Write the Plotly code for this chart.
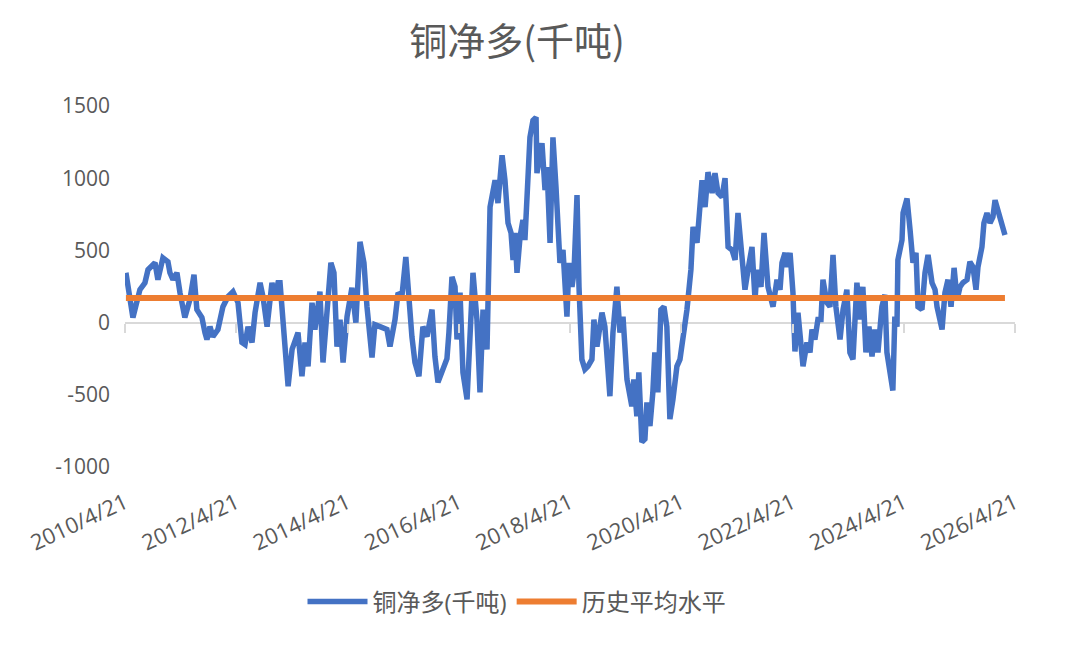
import plotly.graph_objects as go

# ---- data ----
dates = [
    "2010-04-27", "2010-06-12", "2010-07-28", "2010-08-30", "2010-09-19", "2010-11-04", "2010-11-23",
    "2010-12-26", "2011-01-28", "2011-02-10", "2011-03-02", "2011-03-28", "2011-04-17", "2011-05-19",
    "2011-06-21", "2011-07-18", "2011-08-06", "2011-09-08", "2011-09-28", "2011-10-11", "2011-10-31",
    "2011-11-19", "2011-12-22", "2012-01-24", "2012-02-26", "2012-03-30", "2012-05-02", "2012-05-28",
    "2012-06-17", "2012-07-07", "2012-08-02", "2012-08-22", "2012-09-24", "2012-10-13", "2012-11-09",
    "2012-12-11", "2012-12-31", "2013-01-20", "2013-02-02", "2013-03-07", "2013-03-27", "2013-04-22",
    "2013-05-11", "2013-05-31", "2013-06-26", "2013-07-16", "2013-08-05", "2013-08-31", "2013-09-19",
    "2013-10-22", "2013-11-11", "2013-12-07", "2014-01-02", "2014-01-22", "2014-02-11", "2014-03-03",
    "2014-03-23", "2014-04-18", "2014-05-20", "2014-06-15", "2014-07-12", "2014-08-07", "2014-08-27",
    "2014-09-29", "2014-10-18", "2014-11-20", "2015-01-05", "2015-01-25", "2015-02-27", "2015-03-19",
    "2015-04-13", "2015-05-09", "2015-05-23", "2015-06-18", "2015-07-08", "2015-08-03", "2015-08-29",
    "2015-09-25", "2015-10-28", "2015-11-16", "2015-12-06", "2016-01-08", "2016-02-03", "2016-02-16",
    "2016-03-07", "2016-03-27", "2016-04-09", "2016-04-29", "2016-05-18", "2016-06-14", "2016-07-04",
    "2016-07-23", "2016-08-18", "2016-09-07", "2016-09-27", "2016-10-23", "2016-11-12", "2016-12-02",
    "2016-12-15", "2017-01-03", "2017-01-30", "2017-02-18", "2017-03-10", "2017-03-30", "2017-04-12",
    "2017-04-25", "2017-05-08", "2017-05-28", "2017-06-16", "2017-06-29", "2017-07-12", "2017-08-01",
    "2017-08-21", "2017-09-10", "2017-09-16", "2017-10-06", "2017-10-19", "2017-11-08", "2017-11-21",
    "2017-12-11", "2017-12-30", "2018-01-19", "2018-02-01", "2018-02-14", "2018-03-06", "2018-03-19",
    "2018-04-01", "2018-04-14", "2018-05-04", "2018-05-17", "2018-06-06", "2018-06-19", "2018-07-08",
    "2018-07-28", "2018-08-17", "2018-09-12", "2018-09-25", "2018-10-15", "2018-11-17", "2018-12-06",
    "2018-12-19", "2019-01-08", "2019-01-28", "2019-02-23", "2019-03-15", "2019-04-04", "2019-04-30",
    "2019-06-01", "2019-06-14", "2019-07-04", "2019-07-17", "2019-08-06", "2019-08-26", "2019-09-08",
    "2019-09-28", "2019-10-17", "2019-10-30", "2019-11-19", "2019-12-09", "2019-12-29", "2020-01-17",
    "2020-02-06", "2020-02-26", "2020-03-23", "2020-04-12", "2020-05-02", "2020-05-28", "2020-06-23",
    "2020-07-07", "2020-08-02", "2020-08-15", "2020-09-04", "2020-09-24", "2020-10-13", "2020-11-09",
    "2020-11-28", "2020-12-18", "2021-01-13", "2021-02-02", "2021-02-22", "2021-03-20", "2021-04-09",
    "2021-04-28", "2021-05-24", "2021-06-13", "2021-07-03", "2021-07-29", "2021-08-18", "2021-08-31",
    "2021-09-26", "2021-10-16", "2021-11-11", "2021-12-14", "2022-01-09", "2022-01-29", "2022-02-11",
    "2022-03-03", "2022-03-16", "2022-04-05", "2022-04-24", "2022-05-07", "2022-05-27", "2022-06-15",
    "2022-06-29", "2022-07-25", "2022-08-14", "2022-08-27", "2022-09-15", "2022-10-05", "2022-10-25",
    "2022-11-07", "2022-12-03", "2022-12-23", "2023-01-12", "2023-01-31", "2023-02-27", "2023-03-19",
    "2023-04-13", "2023-05-03", "2023-05-23", "2023-06-18", "2023-07-08", "2023-07-27", "2023-08-16",
    "2023-09-05", "2023-09-25", "2023-10-14", "2023-11-03", "2023-11-29", "2023-12-19", "2024-01-01",
    "2024-01-21", "2024-02-09", "2024-02-22", "2024-03-07", "2024-03-13", "2024-04-09", "2024-04-16",
    "2024-05-12", "2024-06-01", "2024-06-20", "2024-07-10", "2024-07-23", "2024-08-18", "2024-09-07",
    "2024-09-27", "2024-10-23", "2024-11-12", "2024-11-25", "2024-12-28", "2025-01-16", "2025-02-05",
    "2025-02-25", "2025-03-17", "2025-04-06", "2025-04-25", "2025-05-14", "2025-06-10", "2025-06-29",
    "2025-07-19", "2025-08-08", "2025-08-21", "2025-09-16", "2025-09-29", "2025-10-19", "2025-11-08",
    "2025-11-27", "2025-12-11", "2025-12-24", "2026-01-12", "2026-02-01", "2026-02-14",
]

net_long = [
    345, 35, 228, 276, 366, 414, 297,
    448, 421, 345, 297, 345, 207, 35,
    159, 331, 90, 35, -69, -117, -28,
    -97, -48, 110, 179, 214, 138, -138,
    -152, -28, -138, 69, 276, 179, -28,
    276, 179, 276, 276, -186, -441, -186,
    -138, -69, -372, -138, -303, 138, -48,
    214, -276, 69, 414, 345, -166, 21,
    -276, 41, 241, 0, 559, 414, 110,
    -241, -14, -28, -48, -166, 21, 207,
    179, 455, 207, -97, -276, -372, -28,
    -97, 90, -234, -414, -330, -250, -69,
    317, 248, -117, 207, -345, -531, 41,
    345, 21, -483, 90, -186, 800, 938,
    986, 828, 1159, 986, 690, 621, 434,
    621, 345, 593, 710, 572, 800, 1283,
    1400, 1421, 1035, 1193, 1242, 917, 1076,
    552, 1283, 938, 621, 414, 503, 207,
    41, 414, 248, 345, 883, 248, -255,
    -324, -303, -255, 21, -166, 69, -28,
    -207, -510, -69, 248, -69, 41, -393,
    -579, -393, -648, -345, -828, -807, -552,
    -717, -483, -207, -483, 90, 110, -28,
    -669, -531, -303, -255, -117, 90, 366,
    662, 552, 779, 986, 800, 1042, 897,
    1035, 897, 869, 1000, 524, 503, 434,
    759, 434, 228, 366, 524, 159, 366,
    248, 621, 248, 110, 297, 228, 414,
    483, 386, 483, 207, -200, 69, -117,
    -303, -138, -207, -48, -117, 21, 21,
    297, 138, 110, 469, 110, -117, 90,
    228, -207, -255, 276, 21, 248, -207,
    -28, -234, -48, -207, 110, 193, -207,
    -372, -470, 41, -28, 434, 572, 759,
    860, 641, 414, 483, 110, 90, 345,
    469, 276, 228, 110, -48, 207, 297,
    110, 379, 159, 248, 276, 297, 421,
    386, 228, 386, 524, 690, 759, 690,
    731, 848, 800, 710, 641, 607,
]

avg_level = 170  # 历史平均水平

tick_dates = ["2010-04-21", "2012-04-21", "2014-04-21", "2016-04-21", "2018-04-21",
              "2020-04-21", "2022-04-21", "2024-04-21", "2026-04-21"]
tick_labels = ["2010/4/21", "2012/4/21", "2014/4/21", "2016/4/21", "2018/4/21",
               "2020/4/21", "2022/4/21", "2024/4/21", "2026/4/21"]
y_ticks = [-1000, -500, 0, 500, 1000, 1500]
y_tick_labels = ["-1000", "-500", "0", "500", "1000", "1500"]

series_name = "铜净多(千吨)"
avg_name = "历史平均水平"
title_text = "铜净多(千吨)"

# ---- figure ----
BLUE = "#4472C4"
ORANGE = "#ED7D31"
GREY_TXT = "#595959"
AXIS_GREY = "#D9D9D9"
FONT = "Open Sans, Noto Sans CJK SC, sans-serif"

fig = go.Figure()
fig.add_trace(go.Scatter(
    x=dates, y=net_long, mode="lines", name=series_name,
    line=dict(color=BLUE, width=5.5), xaxis="x", yaxis="y",
))
fig.add_trace(go.Scatter(
    x=[dates[0], dates[-1]], y=[avg_level, avg_level], mode="lines", name=avg_name,
    line=dict(color=ORANGE, width=6), xaxis="x2", yaxis="y",
))

x_range = [tick_dates[0], tick_dates[-1]]
y_range = [y_ticks[0], y_ticks[-1]]
zero_frac = (0 - y_range[0]) / (y_range[1] - y_range[0])

fig.update_layout(
    width=1066, height=647,
    margin=dict(l=125, r=51, t=106, b=180),
    paper_bgcolor="white", plot_bgcolor="white",
    font=dict(family=FONT, color=GREY_TXT),
    title=dict(text=title_text, x=517 / 1066, xanchor="center", y=1 - 42 / 647, yanchor="middle",
               font=dict(family="Noto Sans CJK SC, sans-serif", size=38, color=GREY_TXT)),
    showlegend=True,
    legend=dict(orientation="h", x=(517 - 125) / 890, xanchor="center",
                y=-0.374, yanchor="middle", font=dict(family=FONT, size=24, color=GREY_TXT),
                itemwidth=60, bgcolor="rgba(0,0,0,0)"),
    xaxis=dict(type="date", range=x_range, tickvals=tick_dates, ticktext=tick_labels,
               tickangle=-25, showgrid=False, zeroline=False, showline=False, ticks="",
               tickfont=dict(size=22, color=GREY_TXT), ticklabelstandoff=18),
    xaxis2=dict(type="date", range=x_range, overlaying="x", anchor="free", position=zero_frac,
                tickvals=tick_dates, showticklabels=False, ticks="outside", ticklen=9,
                tickwidth=2, tickcolor=AXIS_GREY, showgrid=False, zeroline=False, showline=False),
    yaxis=dict(range=y_range, tickvals=y_ticks, ticktext=y_tick_labels, showgrid=False,
               zeroline=True, zerolinecolor=AXIS_GREY, zerolinewidth=2, showline=False, ticks="",
               tickfont=dict(size=21, color=GREY_TXT), ticklabelstandoff=14),
)

fig.write_html("out.html")
